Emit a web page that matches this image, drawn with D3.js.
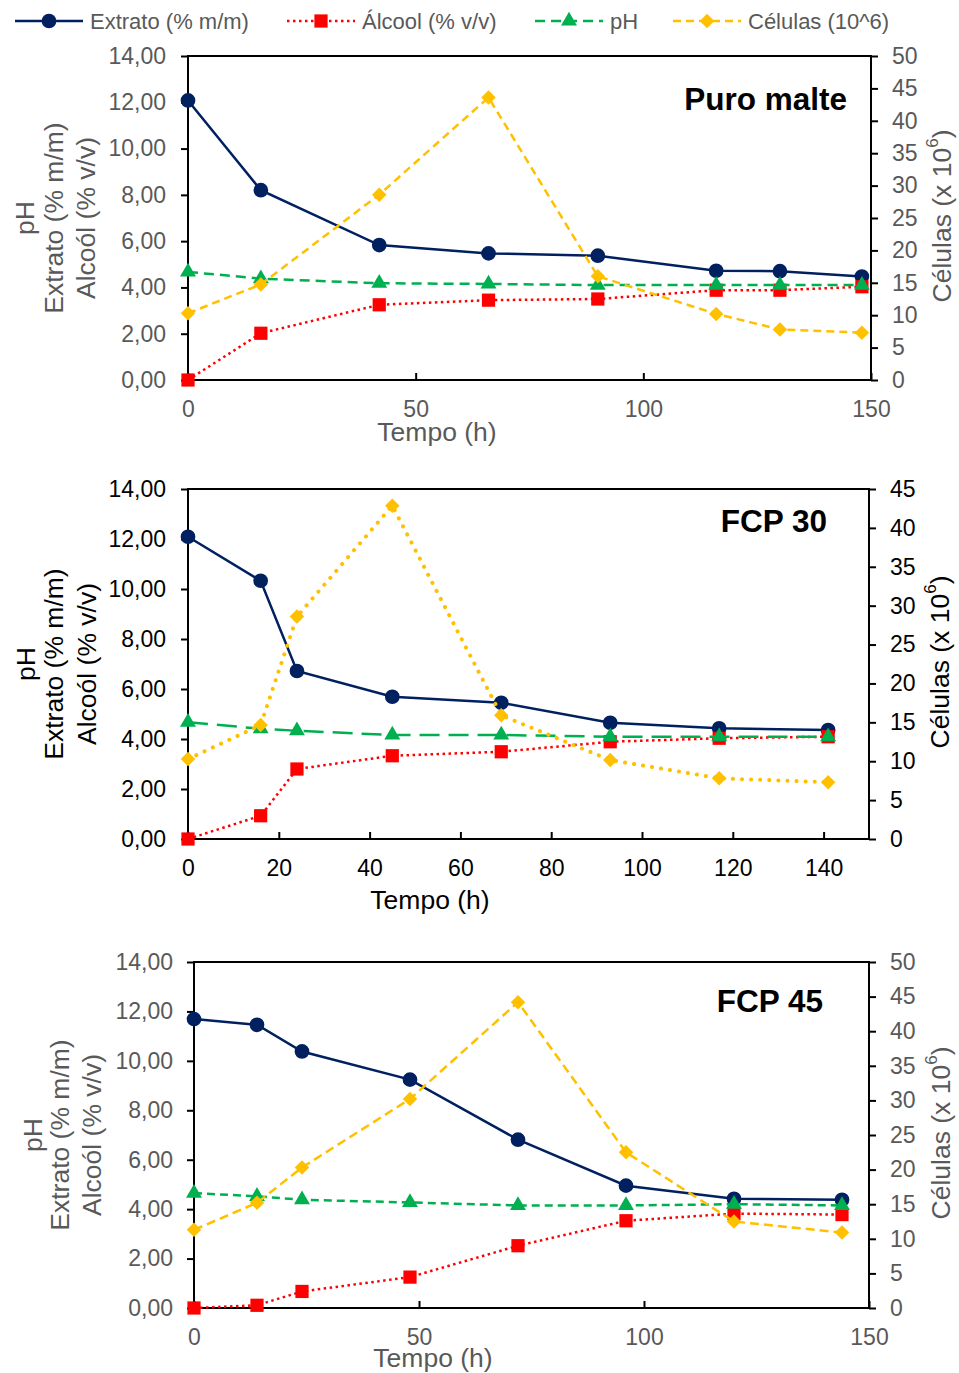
<!DOCTYPE html>
<html>
<head>
<meta charset="utf-8">
<script src="https://cdn.jsdelivr.net/npm/d3@7"></script>
<style>
  body { margin: 0; background: #fff; }
  text { font-family: "Liberation Sans", Arial, Helvetica, sans-serif; }
</style>
</head>
<body>
<svg id="chart" width="959" height="1373"></svg>
<script>
// ---- data ----
var seriesNames = ["Extrato (% m/m)", "Álcool (% v/v)", "pH", "Células (10^6)"];
var panelTitles = ["Puro malte", "FCP 30", "FCP 45"];

var tempoPM   = [0, 16, 42, 66, 90, 116, 130, 148];
var extratoPM = [12.08, 8.2, 5.83, 5.47, 5.37, 4.72, 4.70, 4.47];
var alcoolPM  = [0, 2.02, 3.25, 3.45, 3.5, 3.88, 3.88, 4.03];
var phPM      = [4.67, 4.38, 4.18, 4.15, 4.1, 4.1, 4.1, 4.1];
var celulasPM = [10.3, 14.75, 28.6, 43.6, 16.0, 10.2, 7.8, 7.3];

var tempo30   = [0, 16, 24, 45, 69, 93, 117, 141];
var extrato30 = [12.09, 10.33, 6.72, 5.69, 5.45, 4.65, 4.43, 4.36];
var alcool30  = [0, 0.93, 2.8, 3.33, 3.49, 3.89, 4.03, 4.09];
var ph30      = [4.67, 4.41, 4.33, 4.16, 4.16, 4.09, 4.09, 4.09];
var celulas30 = [10.28, 14.65, 28.6, 42.85, 15.9, 10.15, 7.8, 7.3];

var tempo45   = [0, 14, 24, 48, 72, 96, 120, 144];
var extrato45 = [11.69, 11.46, 10.38, 9.24, 6.81, 4.95, 4.42, 4.38];
var alcool45  = [0, 0.11, 0.67, 1.25, 2.52, 3.53, 3.82, 3.78];
var ph45      = [4.65, 4.52, 4.38, 4.27, 4.15, 4.15, 4.2, 4.15];
var celulas45 = [11.3, 15.2, 20.3, 30.2, 44.2, 22.5, 12.5, 10.9];

var leftTicks   = [0, 2, 4, 6, 8, 10, 12, 14];
var xTicksPM    = [0, 50, 100, 150];
var xTicks30    = [0, 20, 40, 60, 80, 100, 120, 140];
var xTicks45    = [0, 50, 100, 150];
var rightTicks50 = [0, 5, 10, 15, 20, 25, 30, 35, 40, 45, 50];
var rightTicks45 = [0, 5, 10, 15, 20, 25, 30, 35, 40, 45];

var colors = ["#002060", "#FF0000", "#00B050", "#FFC000"];

var svg = d3.select("#chart");
var ptBR = d3.formatLocale({decimal: ",", thousands: ".", grouping: [3], currency: ["", ""]});
var fmt2 = ptBR.format(".2f");

// symbols
var markerPath = [
  d3.symbol().type(d3.symbolCircle).size(170)(),
  d3.symbol().type(d3.symbolSquare).size(175)(),
  d3.symbol().type(d3.symbolTriangle).size(110)(),
  d3.symbol().type(d3.symbolSquare).size(105)()
];
var markerRot = [0, 0, 0, 45];

// ---- legend ----
var legendX = [15, 287, 535, 673];
var legendDash = [null, "2.5,3.5", "10,6", "8,5"];
var legend = svg.append("g");
seriesNames.forEach(function (name, i) {
  var g = legend.append("g").attr("transform", `translate(${legendX[i]}, 21)`);
  g.append("line")
    .attr("x1", 0).attr("x2", 68).attr("y1", 0).attr("y2", 0)
    .attr("stroke", colors[i]).attr("stroke-width", 2.5)
    .attr("stroke-dasharray", legendDash[i]);
  g.append("path")
    .attr("d", markerPath[i])
    .attr("transform", `translate(34, 0) rotate(${markerRot[i]})`)
    .attr("fill", colors[i]);
  g.append("text")
    .attr("x", 75).attr("y", 0)
    .attr("dominant-baseline", "central")
    .attr("fill", "#595959")
    .style("font-size", "22px")
    .text(name);
});

// ---- panels ----
var panels = [
  {
    title: panelTitles[0], tempo: tempoPM,
    values: [extratoPM, alcoolPM, phPM, celulasPM],
    xTicks: xTicksPM, rightMax: 50, rightTicks: rightTicks50,
    left: 188, right: 871, top: 56, bottom: 380,
    textColor: "#595959",
    dashes: [null, "2.5,3.5", "10,6", "8,5"], caps: ["butt", "butt", "butt", "butt"], widths: [2.5, 2.5, 2.5, 2.5],
    titleX: 847, titleY: 110, xTitleX: 437, xTitleY: 441,
    yTitleX: [25, 54, 86], rTitleX: 942, lPad: 15
  },
  {
    title: panelTitles[1], tempo: tempo30,
    values: [extrato30, alcool30, ph30, celulas30],
    xTicks: xTicks30, rightMax: 45, rightTicks: rightTicks45,
    left: 188, right: 869, top: 489, bottom: 839,
    textColor: "#000000",
    dashes: [null, "2.5,3.5", "20,9", "0.1,9"], caps: ["butt", "butt", "butt", "round"], widths: [2.5, 2.5, 2.5, 4],
    titleX: 827, titleY: 532, xTitleX: 430, xTitleY: 909,
    yTitleX: [26, 54, 87], rTitleX: 940, lPad: 15
  },
  {
    title: panelTitles[2], tempo: tempo45,
    values: [extrato45, alcool45, ph45, celulas45],
    xTicks: xTicks45, rightMax: 50, rightTicks: rightTicks50,
    left: 194, right: 869, top: 962, bottom: 1308,
    textColor: "#595959",
    dashes: [null, "2.5,3.5", "8,5", "9,5"], caps: ["butt", "butt", "butt", "butt"], widths: [2.5, 2.5, 2.5, 2.5],
    titleX: 823, titleY: 1012, xTitleX: 433, xTitleY: 1367,
    yTitleX: [33, 60, 92], rTitleX: 941, lPad: 14
  }
];

panels.forEach(function (p) {
  var x = d3.scaleLinear().domain([0, 150]).range([p.left, p.right]);
  var y = d3.scaleLinear().domain([0, 14]).range([p.bottom, p.top]);
  var y2 = d3.scaleLinear().domain([0, p.rightMax]).range([p.bottom, p.top]);
  var g = svg.append("g");

  // axes
  var ax = g.append("g")
    .attr("transform", `translate(0, ${p.bottom})`)
    .call(d3.axisBottom(x).tickValues(p.xTicks).tickSizeInner(-7).tickSizeOuter(0).tickPadding(21).tickFormat(d3.format("d")));
  var ay = g.append("g")
    .attr("transform", `translate(${p.left}, 0)`)
    .call(d3.axisLeft(y).tickValues(leftTicks).tickSizeInner(7).tickSizeOuter(0).tickPadding(p.lPad).tickFormat(fmt2));
  var ay2 = g.append("g")
    .attr("transform", `translate(${p.right}, 0)`)
    .call(d3.axisRight(y2).tickValues(p.rightTicks).tickSizeInner(7).tickSizeOuter(0).tickPadding(14).tickFormat(d3.format("d")));

  [ax, ay, ay2].forEach(function (a) {
    a.select(".domain").remove();
    a.selectAll(".tick line").attr("stroke", "#000").attr("stroke-width", 2);
    a.selectAll(".tick text").attr("fill", p.textColor).style("font-size", "23px");
    a.attr("font-family", null).attr("font-size", null);
  });

  // frame
  g.append("rect")
    .attr("x", p.left).attr("y", p.top)
    .attr("width", p.right - p.left).attr("height", p.bottom - p.top)
    .attr("fill", "none").attr("stroke", "#000").attr("stroke-width", 2);

  // series
  p.values.forEach(function (vals, i) {
    var yy = i === 3 ? y2 : y;
    var pts = p.tempo.map(function (t, k) { return [t, vals[k]]; });
    var line = d3.line().x(function (d) { return x(d[0]); }).y(function (d) { return yy(d[1]); });
    g.append("path")
      .datum(pts)
      .attr("d", line)
      .attr("fill", "none")
      .attr("stroke", colors[i])
      .attr("stroke-width", p.widths[i])
      .attr("stroke-linecap", p.caps[i])
      .attr("stroke-dasharray", p.dashes[i]);
    g.selectAll(null)
      .data(pts)
      .enter()
      .append("path")
      .attr("d", markerPath[i])
      .attr("transform", function (d) { return `translate(${x(d[0])}, ${yy(d[1])}) rotate(${markerRot[i]})`; })
      .attr("fill", colors[i]);
  });

  // panel title
  g.append("text")
    .attr("x", p.titleX).attr("y", p.titleY)
    .attr("text-anchor", "end")
    .style("font-size", "31.5px").style("font-weight", "bold")
    .attr("fill", "#000")
    .text(p.title);

  // x title
  g.append("text")
    .attr("x", p.xTitleX).attr("y", p.xTitleY)
    .attr("text-anchor", "middle")
    .attr("fill", p.textColor)
    .style("font-size", "26.5px")
    .text("Tempo (h)");

  // left titles
  var cy = (p.top + p.bottom) / 2;
  ["pH", "Extrato (% m/m)", "Alcoól (% v/v)"].forEach(function (t, i) {
    g.append("text")
      .attr("transform", `translate(${p.yTitleX[i]}, ${cy}) rotate(-90)`)
      .attr("text-anchor", "middle")
      .attr("dominant-baseline", "central")
      .attr("fill", p.textColor)
      .style("font-size", "26.5px")
      .text(t);
  });

  // right title
  var rt = g.append("text")
    .attr("transform", `translate(${p.rTitleX}, ${cy - 2}) rotate(-90)`)
    .attr("text-anchor", "middle")
    .attr("dominant-baseline", "central")
    .attr("fill", p.textColor)
    .style("font-size", "26.5px");
  rt.append("tspan").text("Células (x 10");
  rt.append("tspan").attr("dy", -10).style("font-size", "17px").text("6");
  rt.append("tspan").attr("dy", 10).text(")");
});
</script>
</body>
</html>
